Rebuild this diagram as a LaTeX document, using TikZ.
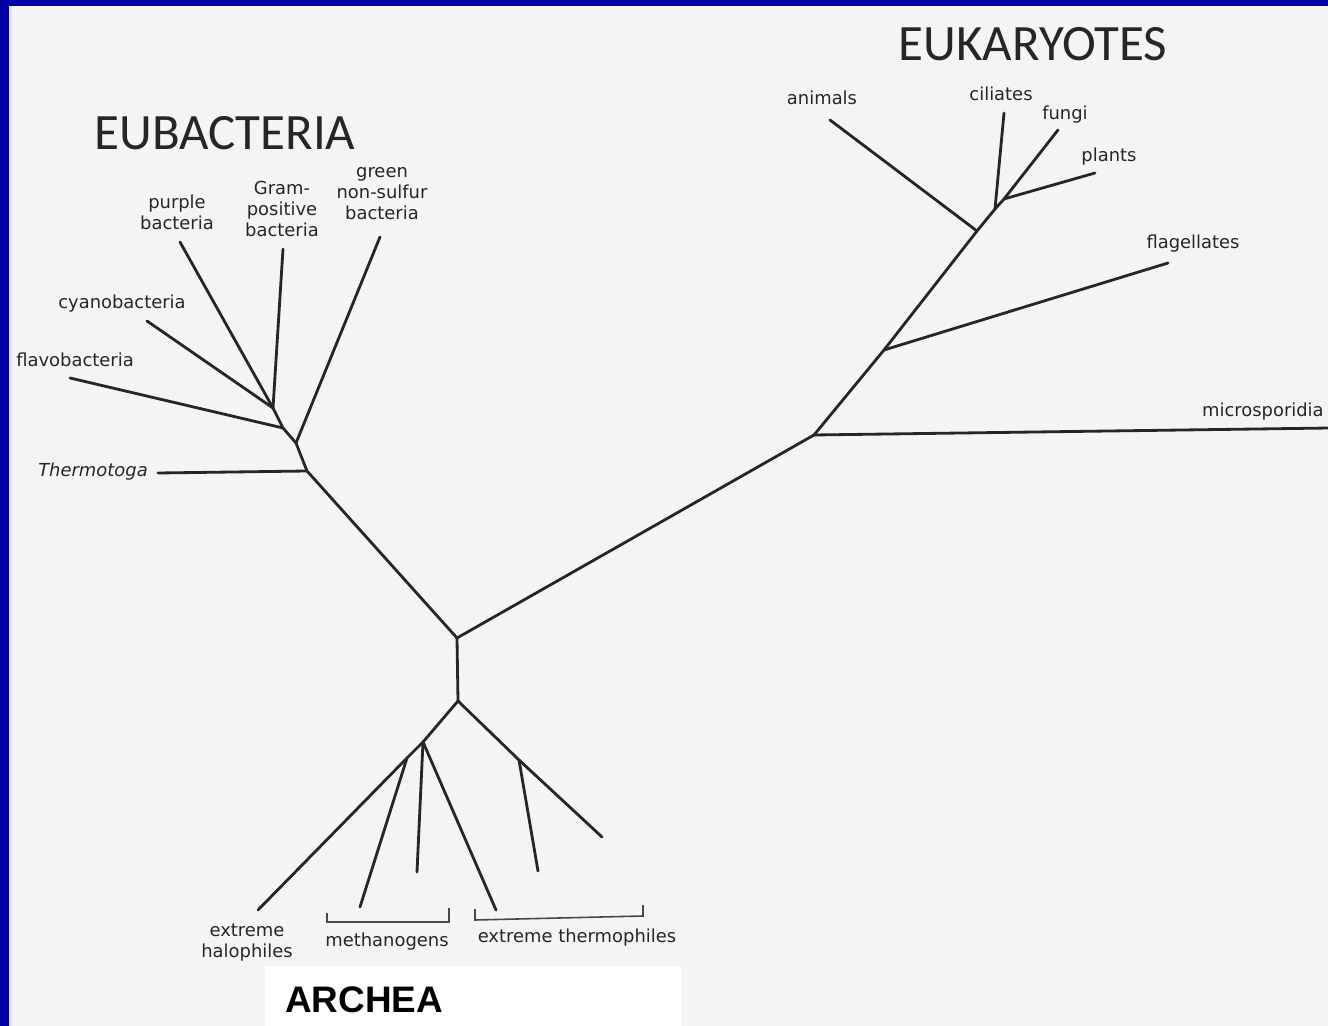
\documentclass[tikz,border=0pt]{standalone}
\usepackage{fontspec}
\setmainfont{DejaVu Sans}
\newfontfamily\headfont{Carlito}
\newfontfamily\archfont{Liberation Sans}
\definecolor{slideblue}{RGB}{0,0,168}
\definecolor{paper}{RGB}{244,244,244}
\definecolor{ink}{RGB}{38,38,38}
\tikzset{
    branch/.style={draw=ink, line width=1.6pt, line cap=round},
    bracketline/.style={draw=ink!85, line width=0.9pt},
    lbl/.style={text=ink, font=\fontsize{10.2}{12}\selectfont, align=center, inner sep=0pt},
    heading/.style={text=ink, font=\headfont\fontsize{29}{32}\selectfont, inner sep=0pt},
}

\begin{document}
\begin{tikzpicture}[x=0.02cm,y=-0.02cm]
\useasboundingbox (0,0) rectangle (1328,1026);
\fill[slideblue] (0,0) rectangle (1328,1026);
\fill[paper] (9,6) rectangle (1328,1026);
\fill[blue!12] (9,6) rectangle (12,1026);

% headings
\node[heading] (eubac) at (225,133) {EUBACTERIA};
\node[heading] (eukar) at (1033,44) {EUKARYOTES};

% inner nodes
\coordinate (root) at (457,638);
\coordinate (eT) at (307,471);
\coordinate (eG) at (296,443);
\coordinate (eF) at (283,428);
\coordinate (eP) at (273,408);
\coordinate (kM) at (814,435);
\coordinate (kF) at (884,350);
\coordinate (kA) at (977,231);
\coordinate (kC) at (995,209);
\coordinate (kP) at (1004,199);
\coordinate (aA) at (458,701);
\coordinate (aB) at (423,742);
\coordinate (aC) at (407,758);
\coordinate (aD) at (519,760);

% leaf ends
\coordinate (thermoEnd) at (158,473);
\coordinate (greenEnd) at (380,237);
\coordinate (flavoEnd) at (70,378);
\coordinate (cyanoEnd) at (147,321);
\coordinate (purpleEnd) at (180,242);
\coordinate (gramEnd) at (283,249);
\coordinate (microEnd) at (1330,428);
\coordinate (flagEnd) at (1168,263);
\coordinate (animalEnd) at (830,120);
\coordinate (ciliEnd) at (1004,113);
\coordinate (fungiEnd) at (1058,130);
\coordinate (plantEnd) at (1095,173);
\coordinate (haloEnd) at (258,910);
\coordinate (meth1End) at (360,907);
\coordinate (meth2End) at (417,872);
\coordinate (meth3End) at (496,910);
\coordinate (therm1End) at (538,871);
\coordinate (therm2End) at (602,837);

% eubacteria
\draw[branch] (root) -- (eT) -- (eG) -- (eF) -- (eP);
\draw[branch] (eT) -- (thermoEnd);
\draw[branch] (eG) -- (greenEnd);
\draw[branch] (eF) -- (flavoEnd);
\draw[branch] (eP) -- (cyanoEnd);
\draw[branch] (eP) -- (purpleEnd);
\draw[branch] (eP) -- (gramEnd);

% eukaryotes
\draw[branch] (root) -- (kM) -- (kF) -- (kA) -- (kC);
\draw[branch] (kM) -- (microEnd);
\draw[branch] (kF) -- (flagEnd);
\draw[branch] (kA) -- (animalEnd);
\draw[branch] (kC) -- (ciliEnd);
\draw[branch] (kC) -- (kP) -- (fungiEnd);
\draw[branch] (kP) -- (plantEnd);

% archaea
\draw[branch] (root) -- (aA);
\draw[branch] (aA) -- (aB) -- (aC) -- (haloEnd);
\draw[branch] (aC) -- (meth1End);
\draw[branch] (aB) -- (meth2End);
\draw[branch] (aB) -- (meth3End);
\draw[branch] (aA) -- (aD) -- (therm2End);
\draw[branch] (aD) -- (therm1End);

% brackets
\draw[bracketline] (327,913) -- (327,922) -- (449,922) -- (449,908);
\draw[bracketline] (475,909) -- (475,920) -- (643,916) -- (643,905);

% labels
\node[lbl] (purple) at (177,212) {purple\\bacteria};
\node[lbl] (gram) at (282,209) {Gram-\\positive\\bacteria};
\node[lbl] (green) at (382,194) {green\\non-sulfur\\bacteria};
\node[lbl] (cyano) at (122,304) {cyanobacteria};
\node[lbl] (flavo) at (75,360) {flavobacteria};
\node[lbl, font=\itshape\fontsize{10.2}{12}\selectfont] (thermo) at (93,472) {Thermotoga};
\node[lbl] (animals) at (822,98) {animals};
\node[lbl] (ciliates) at (1001,94) {ciliates};
\node[lbl] (fungi) at (1065,115) {fungi};
\node[lbl] (plants) at (1109,157) {plants};
\node[lbl] (flag) at (1193,244) {flagellates};
\node[lbl, anchor=east] (micro) at (1324,412) {microsporidia};
\node[lbl] (halo) at (247,943) {extreme\\halophiles};
\node[lbl] (meth) at (387,942) {methanogens};
\node[lbl] (therm) at (577,938) {extreme thermophiles};

% archea box
\fill[white] (265,966) rectangle (681,1026);
\node[anchor=base west, inner sep=0pt, font=\archfont\bfseries\fontsize{21}{24}\selectfont] (archea) at (285,1012) {ARCHEA};
\end{tikzpicture}
\end{document}
